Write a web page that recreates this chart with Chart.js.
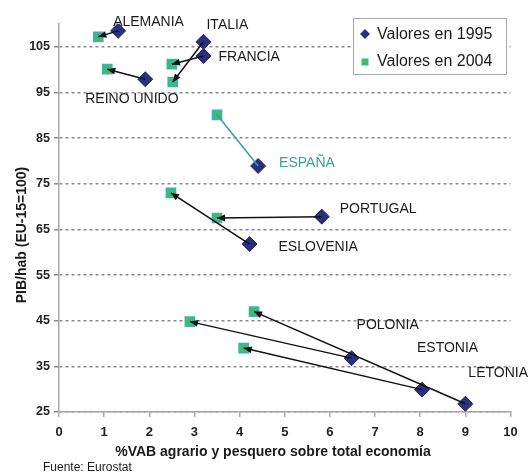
<!DOCTYPE html>
<html>
<head>
<meta charset="utf-8">
<script src="https://cdn.jsdelivr.net/npm/chart.js@4.4.0/dist/chart.umd.min.js"></script>
<style>
  html, body { margin: 0; padding: 0; background: #fff; }
  #wrap { width: 530px; height: 474px; }
</style>
</head>
<body>
<div id="wrap"><canvas id="chart" width="530" height="474"></canvas></div>
<script>
// values: x = % VAB agrario y pesquero, y = PIB/hab (EU-15=100)
const countries = ['ALEMANIA', 'ITALIA', 'FRANCIA', 'REINO UNIDO', 'ESPAÑA', 'PORTUGAL', 'ESLOVENIA', 'POLONIA', 'ESTONIA', 'LETONIA'];
const x1995 = [1.31, 3.20, 3.20, 1.91, 4.41, 5.82, 4.22, 6.48, 8.04, 9.00];
const y1995 = [108.5, 106.1, 103.0, 97.9, 78.9, 67.8, 61.8, 36.8, 29.9, 26.8];
const x2004 = [0.87, 2.52, 2.50, 1.07, 3.50, 3.50, 2.48, 2.90, 4.09, 4.32];
const y2004 = [107.2, 97.3, 101.2, 100.1, 90.1, 67.5, 73.0, 44.8, 39.0, 47.0];
const yTicks = [25, 35, 45, 55, 65, 75, 85, 95, 105];
const seriesNames = ['Valores en 1995', 'Valores en 2004'];

// label placement, pixels relative to the 1995 marker
const labelOffsets = [[-5, -9], [3, -17], [15, 1], [-60, 20], [21, -3], [18, -7], [29, 3], [5, -33], [-5, -41], [3, -31]];

const FONT = '"Liberation Sans", Arial, sans-serif';
const NAVY = '#2b2f82';
const GREEN = '#3cba78';
const TEAL = '#3a9e9e';

const arrowLines = countries.map((name, i) => ({
  type: 'scatter',
  label: name,
  data: [{ x: x1995[i], y: y1995[i] }, { x: x2004[i], y: y2004[i] }],
  showLine: true,
  borderColor: name === 'ESPAÑA' ? TEAL : '#111',
  borderWidth: 1.5,
  pointRadius: 0,
  order: 0,
}));

// country names, arrow tips, legend box and axis titles
const annotate = {
  id: 'annotate',
  afterDatasetsDraw(chart) {
    const { ctx } = chart;
    const markers = chart.getDatasetMeta(0).data;
    countries.forEach((name, i) => {
      if (name !== 'ESPAÑA') {
        const [a, b] = chart.getDatasetMeta(2 + i).data;
        const ang = Math.atan2(b.y - a.y, b.x - a.x);
        ctx.save();
        ctx.translate(b.x, b.y);
        ctx.rotate(ang);
        ctx.beginPath();
        ctx.moveTo(0, 0);
        ctx.lineTo(-8, -3.5);
        ctx.lineTo(-8, 3.5);
        ctx.closePath();
        ctx.fillStyle = '#111';
        ctx.fill();
        ctx.restore();
      }
      const p = markers[i];
      ctx.save();
      ctx.font = `14px ${FONT}`;
      ctx.fillStyle = name === 'ESPAÑA' ? TEAL : '#1a1a1a';
      ctx.textAlign = 'left';
      ctx.textBaseline = 'middle';
      ctx.fillText(name, p.x + labelOffsets[i][0], p.y + labelOffsets[i][1]);
      ctx.restore();
    });
  },
  afterDraw(chart) {
    const { ctx } = chart;
    ctx.save();
    // legend
    ctx.fillStyle = '#fff';
    ctx.fillRect(353.5, 18.5, 153, 56);
    ctx.strokeStyle = '#a8a8a8';
    ctx.lineWidth = 1;
    ctx.strokeRect(353.5, 18.5, 153, 56);
    ctx.fillStyle = NAVY;
    ctx.beginPath();
    ctx.moveTo(360, 34); ctx.lineTo(365, 29); ctx.lineTo(370, 34); ctx.lineTo(365, 39);
    ctx.closePath();
    ctx.fill();
    ctx.fillStyle = GREEN;
    ctx.fillRect(361.5, 58.5, 7, 7);
    ctx.font = `16px ${FONT}`;
    ctx.fillStyle = '#1a1a1a';
    ctx.textBaseline = 'middle';
    ctx.fillText(seriesNames[0], 377, 34.5);
    ctx.fillText(seriesNames[1], 377, 62);
    // axis titles and source
    ctx.font = `bold 14px ${FONT}`;
    ctx.textAlign = 'center';
    ctx.fillText('%VAB agrario y pesquero sobre total economía', 273, 452);
    ctx.save();
    ctx.translate(22, 235);
    ctx.rotate(-Math.PI / 2);
    ctx.fillText('PIB/hab (EU-15=100)', 0, 0);
    ctx.restore();
    ctx.font = `12px ${FONT}`;
    ctx.textAlign = 'left';
    ctx.fillText('Fuente: Eurostat', 43, 468);
    ctx.restore();
  },
};

new Chart(document.getElementById('chart'), {
  type: 'scatter',
  data: {
    datasets: [
      {
        label: seriesNames[0],
        data: countries.map((_, i) => ({ x: x1995[i], y: y1995[i] })),
        pointStyle: 'rectRot',
        pointRadius: 7.5,
        backgroundColor: NAVY,
        borderColor: '#23286e',
        borderWidth: 1,
        order: 1,
      },
      {
        label: seriesNames[1],
        data: countries.map((_, i) => ({ x: x2004[i], y: y2004[i] })),
        pointStyle: 'rect',
        pointRadius: 6.5,
        backgroundColor: GREEN,
        borderColor: '#3fb0b0',
        borderWidth: 1.5,
        order: 1,
      },
      ...arrowLines,
    ],
  },
  options: {
    responsive: false,
    animation: false,
    layout: { padding: { top: 24, right: 19.5, bottom: 0, left: 0 } },
    plugins: {
      legend: { display: false },
      tooltip: { enabled: false },
    },
    scales: {
      x: {
        type: 'linear',
        min: 0,
        max: 10,
        ticks: { stepSize: 1, color: '#222', font: { family: FONT, size: 13, weight: 'bold' }, padding: 8 },
        grid: { drawOnChartArea: false, drawTicks: true, tickLength: 5, color: '#aaa', lineWidth: 1.5 },
        border: { color: '#a8a8a8', width: 1.5 },
        afterFit: (scale) => { scale.height = 62; },
      },
      y: {
        type: 'linear',
        min: 25,
        max: 110,
        afterBuildTicks: (scale) => { scale.ticks = yTicks.map((v) => ({ value: v })); },
        ticks: { color: '#222', font: { family: FONT, size: 12.5, weight: 'bold' }, padding: 4 },
        grid: { color: '#8a8a8a', lineWidth: 1.5, tickLength: 5 },
        border: { color: '#a8a8a8', width: 1.5, dash: [3, 3] },
        afterFit: (scale) => { scale.width = 59; },
      },
    },
  },
  plugins: [annotate],
});
</script>
</body>
</html>
